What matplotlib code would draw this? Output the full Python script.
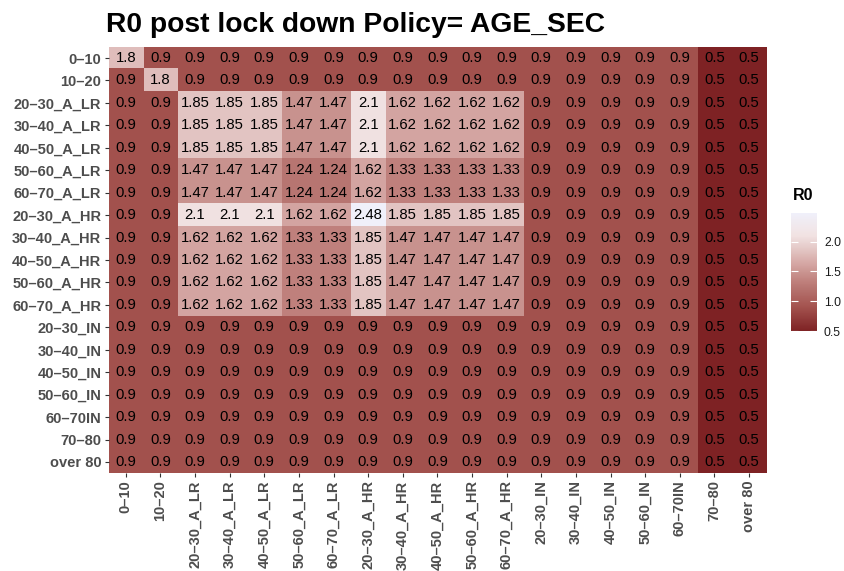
import numpy as np
import matplotlib
matplotlib.use("Agg")
import matplotlib.pyplot as plt
from matplotlib.colors import LinearSegmentedColormap, Normalize

plt.rcParams["font.family"] = ["Liberation Sans", "DejaVu Sans"]

groups = ["0–10", "10–20",
          "20–30_A_LR", "30–40_A_LR", "40–50_A_LR", "50–60_A_LR", "60–70_A_LR",
          "20–30_A_HR", "30–40_A_HR", "40–50_A_HR", "50–60_A_HR", "60–70_A_HR",
          "20–30_IN", "30–40_IN", "40–50_IN", "50–60_IN", "60–70IN",
          "70–80", "over 80"]

r0 = [
    [1.8, 0.9, 0.9, 0.9, 0.9, 0.9, 0.9, 0.9, 0.9, 0.9, 0.9, 0.9, 0.9, 0.9, 0.9, 0.9, 0.9, 0.5, 0.5],
    [0.9, 1.8, 0.9, 0.9, 0.9, 0.9, 0.9, 0.9, 0.9, 0.9, 0.9, 0.9, 0.9, 0.9, 0.9, 0.9, 0.9, 0.5, 0.5],
    [0.9, 0.9, 1.85, 1.85, 1.85, 1.47, 1.47, 2.1, 1.62, 1.62, 1.62, 1.62, 0.9, 0.9, 0.9, 0.9, 0.9, 0.5, 0.5],
    [0.9, 0.9, 1.85, 1.85, 1.85, 1.47, 1.47, 2.1, 1.62, 1.62, 1.62, 1.62, 0.9, 0.9, 0.9, 0.9, 0.9, 0.5, 0.5],
    [0.9, 0.9, 1.85, 1.85, 1.85, 1.47, 1.47, 2.1, 1.62, 1.62, 1.62, 1.62, 0.9, 0.9, 0.9, 0.9, 0.9, 0.5, 0.5],
    [0.9, 0.9, 1.47, 1.47, 1.47, 1.24, 1.24, 1.62, 1.33, 1.33, 1.33, 1.33, 0.9, 0.9, 0.9, 0.9, 0.9, 0.5, 0.5],
    [0.9, 0.9, 1.47, 1.47, 1.47, 1.24, 1.24, 1.62, 1.33, 1.33, 1.33, 1.33, 0.9, 0.9, 0.9, 0.9, 0.9, 0.5, 0.5],
    [0.9, 0.9, 2.1, 2.1, 2.1, 1.62, 1.62, 2.48, 1.85, 1.85, 1.85, 1.85, 0.9, 0.9, 0.9, 0.9, 0.9, 0.5, 0.5],
    [0.9, 0.9, 1.62, 1.62, 1.62, 1.33, 1.33, 1.85, 1.47, 1.47, 1.47, 1.47, 0.9, 0.9, 0.9, 0.9, 0.9, 0.5, 0.5],
    [0.9, 0.9, 1.62, 1.62, 1.62, 1.33, 1.33, 1.85, 1.47, 1.47, 1.47, 1.47, 0.9, 0.9, 0.9, 0.9, 0.9, 0.5, 0.5],
    [0.9, 0.9, 1.62, 1.62, 1.62, 1.33, 1.33, 1.85, 1.47, 1.47, 1.47, 1.47, 0.9, 0.9, 0.9, 0.9, 0.9, 0.5, 0.5],
    [0.9, 0.9, 1.62, 1.62, 1.62, 1.33, 1.33, 1.85, 1.47, 1.47, 1.47, 1.47, 0.9, 0.9, 0.9, 0.9, 0.9, 0.5, 0.5],
    [0.9, 0.9, 0.9, 0.9, 0.9, 0.9, 0.9, 0.9, 0.9, 0.9, 0.9, 0.9, 0.9, 0.9, 0.9, 0.9, 0.9, 0.5, 0.5],
    [0.9, 0.9, 0.9, 0.9, 0.9, 0.9, 0.9, 0.9, 0.9, 0.9, 0.9, 0.9, 0.9, 0.9, 0.9, 0.9, 0.9, 0.5, 0.5],
    [0.9, 0.9, 0.9, 0.9, 0.9, 0.9, 0.9, 0.9, 0.9, 0.9, 0.9, 0.9, 0.9, 0.9, 0.9, 0.9, 0.9, 0.5, 0.5],
    [0.9, 0.9, 0.9, 0.9, 0.9, 0.9, 0.9, 0.9, 0.9, 0.9, 0.9, 0.9, 0.9, 0.9, 0.9, 0.9, 0.9, 0.5, 0.5],
    [0.9, 0.9, 0.9, 0.9, 0.9, 0.9, 0.9, 0.9, 0.9, 0.9, 0.9, 0.9, 0.9, 0.9, 0.9, 0.9, 0.9, 0.5, 0.5],
    [0.9, 0.9, 0.9, 0.9, 0.9, 0.9, 0.9, 0.9, 0.9, 0.9, 0.9, 0.9, 0.9, 0.9, 0.9, 0.9, 0.9, 0.5, 0.5],
    [0.9, 0.9, 0.9, 0.9, 0.9, 0.9, 0.9, 0.9, 0.9, 0.9, 0.9, 0.9, 0.9, 0.9, 0.9, 0.9, 0.9, 0.5, 0.5],
]

# fill gradient: dark red at the low end, pale lavender-white at the top
grad_values = [0.5, 0.9, 1.24, 1.33, 1.47, 1.62, 1.85, 2.1, 2.48]
grad_colors = ["#7e2224", "#a3524e", "#b87672", "#bf807c", "#c8928e",
               "#d4a5a2", "#e2c4c2", "#f1e2e2", "#f0f0fa"]

data = np.array(r0)
vmin, vmax = data.min(), data.max()
norm = Normalize(vmin=vmin, vmax=vmax)
cmap = LinearSegmentedColormap.from_list(
    "r0", [((v - vmin) / (vmax - vmin), c) for v, c in zip(grad_values, grad_colors)])
n = len(groups)

fig = plt.figure(figsize=(8.44, 5.71), dpi=100)
W, H = 844, 571
ax = fig.add_axes([108.5 / W, 1 - 473.2 / H, (766.3 - 108.5) / W, (473.2 - 46.8) / H])
ax.imshow(data, cmap=cmap, norm=norm, aspect="auto", interpolation="nearest",
          extent=(-0.5, n - 0.5, n - 0.5, -0.5))

for i in range(n):
    for j in range(n):
        ax.text(j, i, f"{data[i, j]:g}", ha="center", va="center",
                fontsize=10.7, color="black")

ax.set_xticks(range(n))
ax.set_xticklabels(groups, rotation=90, fontsize=10.5, fontweight="bold",
                   color="#4d4d4d", va="top")
ax.set_yticks(range(n))
ax.set_yticklabels(groups, fontsize=10.5, fontweight="bold", color="#4d4d4d")
ax.tick_params(length=3.2, width=0.8, color="#333333", pad=2)
for s in ax.spines.values():
    s.set_visible(False)

fig.text(106 / W, 1 - 32 / H, "R0 post lock down Policy= AGE_SEC",
         fontsize=20.3, fontweight="bold", ha="left", va="baseline")

# legend bar
cax = fig.add_axes([791 / W, 1 - 331 / H, 26 / W, 118 / H])
cb = fig.colorbar(plt.cm.ScalarMappable(norm=norm, cmap=cmap), cax=cax,
                  ticks=[0.5, 1.0, 1.5, 2.0])
cb.outline.set_visible(False)
cb.ax.set_yticklabels(["0.5", "1.0", "1.5", "2.0"])
cb.ax.tick_params(direction="in", color="white", length=5, width=0.8,
                  left=True, right=True, labelsize=8.8, labelcolor="#1a1a1a", pad=5)
fig.text(793 / W, 1 - 200 / H, "R0", fontsize=11.5, fontweight="bold",
         ha="left", va="baseline")

fig.savefig("out.png", dpi=100)
